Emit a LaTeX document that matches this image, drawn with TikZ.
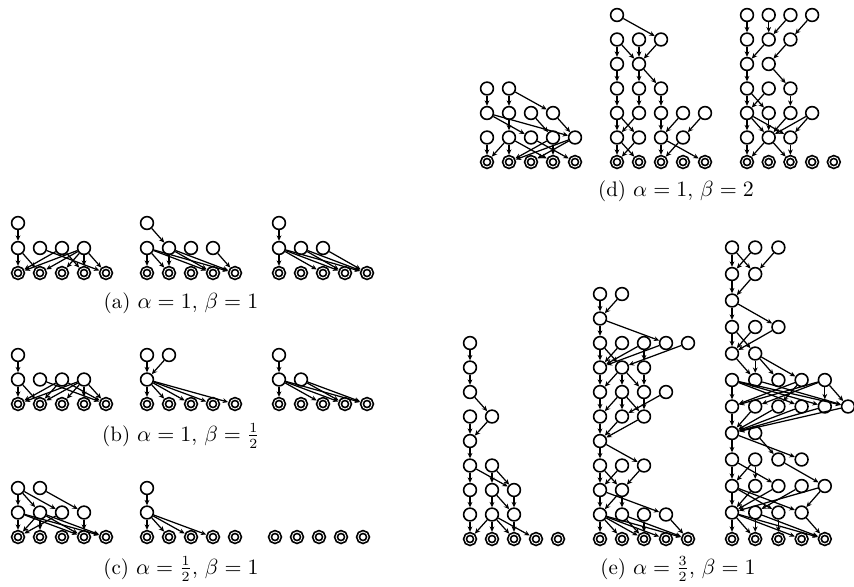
\documentclass[tikz,border=0pt]{standalone}
\usetikzlibrary{arrows.meta}
\tikzset{
 nd/.style={circle,draw,line width=0.8pt,minimum size=6.4pt,inner sep=0pt,fill=white},
 bt/.style={circle,draw,line width=0.85pt,double=white,double distance=0.45pt,minimum size=5pt,inner sep=0pt,outer sep=1.1pt},
 ed/.style={line width=0.62pt,-{Stealth[length=2.7pt,width=2.4pt]}},
 captxt/.style={inner sep=0pt,anchor=base,font=\fontsize{10.5}{12.5}\selectfont}
}
% #1 prefix, #2 x0, #3 y0, #4 dx, #5 dy, #6 inner nodes c/r, #7 last bottom index
\newcommand{\mkg}[7]{%
 \foreach \c/\r in {#6} \node[nd] (#1-\c-\r) at ({#2+#4*\c},{#3-#5*\r}) {};
 \foreach \c in {0,...,#7} \node[bt] (#1-\c-0) at ({#2+#4*\c},#3) {};
}
\newcommand{\mke}[2]{\foreach \a/\b/\c/\d in {#2} \draw[ed] (#1-\a-\b) -- (#1-\c-\d);}
\begin{document}
\begin{tikzpicture}[x=0.5pt,y=-0.5pt]
\useasboundingbox (0,0) rectangle (854,586);
% ---------- (a)
\mkg{aA}{18}{273}{22}{25}{0/2,0/1,1/1,2/1,3/1}{4}
\mke{aA}{0/2/0/1, 0/1/0/0, 0/1/1/0, 1/1/4/0, 2/1/0/0, 2/1/3/0, 3/1/0/0, 3/1/1/0, 3/1/2/0, 3/1/3/0, 3/1/4/0}
\mkg{aB}{147}{273}{22}{25}{0/2,0/1,1/1,2/1,3/1}{4}
\mke{aB}{0/2/1/1, 0/1/0/0, 0/1/1/0, 0/1/3/0, 0/1/4/0, 1/1/1/0, 1/1/3/0, 1/1/4/0, 3/1/4/0}
\mkg{aC}{279}{273}{22}{25}{0/2,0/1,1/1,2/1}{4}
\mke{aC}{0/2/0/1, 0/1/0/0, 0/1/2/0, 0/1/3/0, 0/1/4/0, 1/1/3/0, 1/1/4/0, 2/1/4/0}
\node[captxt] (capa) at (181,308) {(a) $\alpha=1$, $\beta=1$};
% ---------- (b)
\mkg{bA}{18}{404}{22}{24.5}{0/2,0/1,1/1,2/1,3/1}{4}
\mke{bA}{0/2/0/1, 0/1/0/0, 0/1/1/0, 1/1/4/0, 2/1/0/0, 2/1/1/0, 2/1/4/0, 3/1/0/0, 3/1/1/0, 3/1/2/0, 3/1/3/0, 3/1/4/0}
\mkg{bB}{147}{404}{22}{24.5}{0/2,1/2,0/1}{4}
\mke{bB}{0/2/0/1, 1/2/0/1, 0/1/0/0, 0/1/1/0, 0/1/2/0, 0/1/3/0, 0/1/4/0}
\mkg{bC}{279}{404}{22}{24.5}{0/2,0/1,1/1}{4}
\mke{bC}{0/2/0/1, 0/1/0/0, 0/1/2/0, 0/1/3/0, 0/1/4/0, 1/1/3/0, 1/1/4/0}
\node[captxt] (capb) at (181,441) {(b) $\alpha=1$, $\beta=\frac{1}{2}$};
% ---------- (c)
\mkg{cA}{18}{537}{22}{24.5}{0/2,1/2,0/1,1/1,2/1,3/1}{4}
\mke{cA}{0/2/0/1, 0/2/1/1, 0/2/2/1, 1/2/3/1, 0/1/0/0, 0/1/3/0, 0/1/4/0, 1/1/0/0, 1/1/1/0, 1/1/3/0, 1/1/4/0, 2/1/0/0, 3/1/3/0}
\mkg{cB}{147}{537}{22}{24.5}{0/2,0/1}{4}
\mke{cB}{0/2/0/1, 0/1/0/0, 0/1/1/0, 0/1/2/0, 0/1/3/0}
\foreach \c in {0,...,4} \node[bt] (cC-\c-0) at ({275+22*\c},537) {};
\node[captxt] (capc) at (181,574) {(c) $\alpha=\frac{1}{2}$, $\beta=1$};
% ---------- (d)
\mkg{dA}{487}{162}{22}{24.5}{0/3,1/3,0/2,1/2,2/2,3/2,0/1,1/1,2/1,3/1,4/1}{4}
\mke{dA}{0/3/0/2, 1/3/1/2, 1/3/3/2, 0/2/2/1, 0/2/4/1, 1/2/1/1, 2/2/3/1, 3/2/4/1, 0/1/0/0, 1/1/0/0, 1/1/1/0, 1/1/3/0, 2/1/4/0, 3/1/1/0, 3/1/3/0, 4/1/1/0, 4/1/2/0}
\mkg{dB}{617}{162}{22}{24.5}{0/6,0/5,1/5,2/5,0/4,1/4,0/3,1/3,2/3,0/2,1/2,2/2,3/2,4/2,0/1,1/1,2/1,3/1}{4}
\mke{dB}{0/6/2/5, 0/5/0/4, 0/5/1/4, 1/5/1/4, 2/5/1/4, 0/4/0/3, 1/4/1/3, 1/4/2/3, 0/3/0/2, 1/3/1/2, 2/3/2/2, 0/2/0/1, 0/2/1/1, 1/2/0/1, 2/2/2/1, 3/2/2/1, 4/2/3/1, 0/1/0/0, 0/1/1/0, 1/1/0/0, 2/1/2/0, 2/1/4/0, 3/1/2/0}
\mkg{dC}{747}{162}{21.7}{24.5}{0/6,1/6,2/6,3/6,0/5,1/5,2/5,0/4,1/4,0/3,1/3,2/3,0/2,1/2,2/2,3/2,0/1,1/1,2/1}{4}
\mke{dC}{0/6/0/5, 1/6/1/5, 2/6/1/5, 3/6/2/5, 0/5/0/4, 1/5/0/4, 2/5/1/4, 0/4/0/3, 1/4/2/3, 0/3/0/2, 0/3/1/2, 1/3/0/2, 2/3/2/2, 0/2/0/1, 0/2/1/1, 0/2/2/1, 1/2/1/1, 2/2/1/1, 3/2/1/1, 3/2/2/1, 0/1/0/0, 1/1/0/0, 1/1/2/0, 2/1/2/0}
\node[captxt] (capd) at (676,196) {(d) $\alpha=1$, $\beta=2$};
% ---------- (e)
\mkg{eA}{470}{539}{22}{24.5}{0/8,0/7,0/6,0/5,1/5,0/4,0/3,1/3,0/2,1/2,2/2,0/1,1/1,2/1}{4}
\mke{eA}{0/8/0/7, 0/7/0/6, 0/6/1/5, 0/5/0/4, 1/5/0/4, 0/4/0/3, 0/3/0/2, 0/3/2/2, 1/3/1/2, 1/3/2/2, 0/2/0/1, 1/2/1/1, 1/2/2/1, 2/2/2/1, 0/1/0/0, 1/1/0/0, 1/1/1/0, 1/1/2/0, 1/1/3/0, 2/1/2/0}
\mkg{eB}{600}{539}{22}{24.5}{0/10,1/10,0/9,0/8,1/8,2/8,3/8,4/8,0/7,1/7,2/7,0/6,1/6,2/6,3/6,0/5,1/5,2/5,0/4,0/3,1/3,2/3,0/2,1/2,0/1,1/1,2/1,3/1}{4}
\mke{eB}{0/10/0/9, 1/10/0/9, 0/9/0/8, 0/9/3/8, 0/8/0/7, 0/8/1/7, 1/8/0/7, 2/8/0/7, 3/8/0/7, 4/8/1/7, 2/8/2/7, 0/7/0/6, 1/7/0/6, 1/7/1/6, 1/7/2/6, 2/7/2/6, 0/6/0/5, 1/6/0/5, 1/6/1/5, 1/6/2/5, 2/6/2/5, 3/6/1/5, 0/5/0/4, 1/5/0/4, 2/5/0/4, 0/4/0/3, 0/4/2/3, 0/3/0/2, 0/3/1/2, 1/3/0/2, 2/3/1/2, 0/2/0/1, 0/2/3/1, 1/2/0/1, 1/2/1/1, 0/1/0/0, 0/1/1/0, 0/1/2/0, 0/1/3/0, 0/1/4/0, 1/1/2/0, 1/1/4/0, 2/1/2/0, 3/1/4/0}
\mkg{eC}{732}{539}{23.2}{26.5}{0/11,1/11,2/11,0/10,1/10,0/9,0/8,1/8,2/8,0/7,1/7,0/6,1/6,2/6,3/6,4/6,0/5,1/5,2/5,3/5,4/5,5/5,0/4,1/4,0/3,1/3,2/3,3/3,0/2,1/2,2/2,3/2,4/2,0/1,1/1,2/1,3/1}{4}
\mke{eC}{0/11/0/10, 0/11/1/10, 1/11/0/10, 2/11/1/10, 0/10/0/9, 1/10/0/9, 0/9/0/8, 0/9/2/8, 0/8/0/7, 0/8/1/7, 1/8/0/7, 2/8/0/7, 0/7/1/6, 1/7/1/6, 1/7/2/6, 1/7/3/6, 0/6/0/5, 0/6/3/5, 0/6/4/5, 0/6/5/5, 1/6/5/5, 3/6/0/5, 3/6/2/5, 4/6/0/5, 4/6/1/5, 4/6/4/5, 4/6/5/5, 0/5/0/4, 1/5/0/4, 2/5/0/4, 3/5/0/4, 4/5/0/4, 5/5/0/4, 0/4/0/3, 0/4/3/3, 1/4/2/3, 0/3/0/2, 0/3/2/2, 1/3/0/2, 1/3/1/2, 2/3/4/2, 0/2/0/1, 0/2/2/1, 0/2/3/1, 1/2/0/1, 2/2/0/1, 3/2/1/1, 4/2/0/1, 4/2/3/1, 0/1/0/0, 0/1/1/0, 0/1/3/0, 0/1/4/0, 1/1/1/0, 1/1/4/0, 2/1/2/0, 3/1/4/0}
\node[captxt] (cape) at (678,574) {(e) $\alpha=\frac{3}{2}$, $\beta=1$};
\end{tikzpicture}
\end{document}
